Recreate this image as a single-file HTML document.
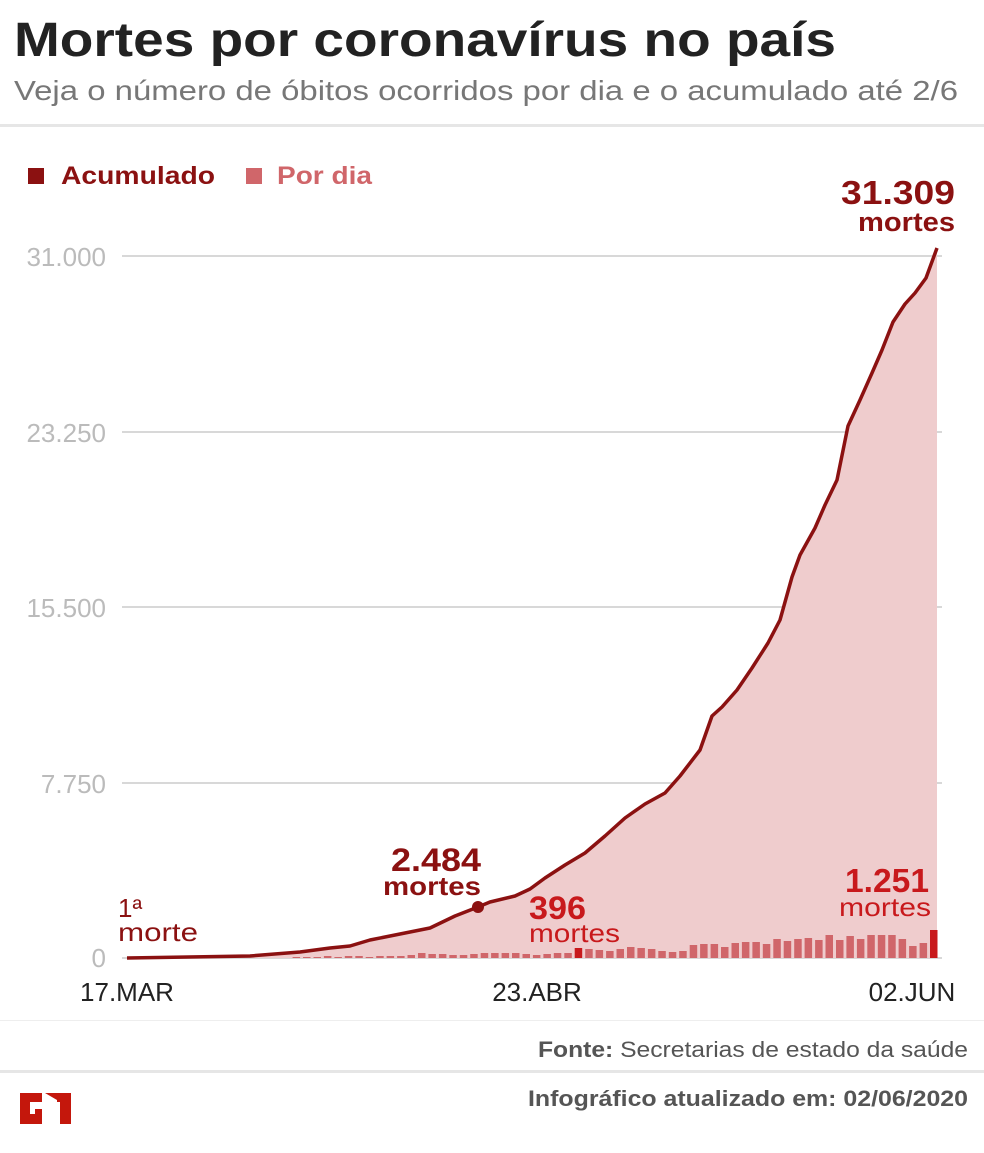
<!DOCTYPE html>
<html><head><meta charset="utf-8"><style>
body{margin:0;width:984px;height:1148px;background:#fff;font-family:"Liberation Sans",sans-serif;overflow:hidden}
</style></head><body>
<svg width="984" height="1148" xmlns="http://www.w3.org/2000/svg" font-family="Liberation Sans, sans-serif">
<text x="14" y="56" font-size="48" font-weight="bold" fill="#222" textLength="822" lengthAdjust="spacingAndGlyphs">Mortes por coronavírus no país</text>
<text x="14" y="100" font-size="28" fill="#777" textLength="944" lengthAdjust="spacingAndGlyphs">Veja o número de óbitos ocorridos por dia e o acumulado até 2/6</text>
<rect x="0" y="124" width="984" height="3" fill="#e6e6e6"/>
<rect x="28" y="168" width="16" height="16" fill="#8b1111"/>
<text x="61" y="184" font-size="25" font-weight="bold" fill="#8b1111" textLength="154" lengthAdjust="spacingAndGlyphs">Acumulado</text>
<rect x="246" y="168" width="16" height="16" fill="#d0666a"/>
<text x="277" y="184" font-size="25" font-weight="bold" fill="#d0666a" textLength="95" lengthAdjust="spacingAndGlyphs">Por dia</text>
<g stroke="#ccc" stroke-width="1.5">
<line x1="122" y1="256" x2="942" y2="256"/><line x1="122" y1="432" x2="942" y2="432"/>
<line x1="122" y1="607" x2="942" y2="607"/><line x1="122" y1="783" x2="942" y2="783"/>
<line x1="122" y1="958" x2="942" y2="958"/></g>
<g font-size="26" fill="#bbb" text-anchor="end">
<text x="106" y="266">31.000</text><text x="106" y="442">23.250</text><text x="106" y="617">15.500</text>
<text x="106" y="793">7.750</text><text x="106" y="967">0</text></g>
<polygon id="area" fill="#efcccd"/>
<g id="bars"></g>
<polyline id="line" fill="none" stroke="#8b1111" stroke-width="3.5" stroke-linejoin="round"/>
<circle cx="478" cy="907" r="6" fill="#8b1111"/>
<g font-size="26" fill="#222" text-anchor="middle"><text x="127" y="1001">17.MAR</text><text x="537" y="1001">23.ABR</text><text x="912" y="1001">02.JUN</text></g>
<text x="955" y="204" font-size="33" font-weight="bold" fill="#8b1111" text-anchor="end" textLength="114" lengthAdjust="spacingAndGlyphs">31.309</text>
<text x="955" y="231" font-size="27" font-weight="bold" fill="#8b1111" text-anchor="end" textLength="97" lengthAdjust="spacingAndGlyphs">mortes</text>
<text x="481" y="871" font-size="32" font-weight="bold" fill="#8b1111" text-anchor="end" textLength="90" lengthAdjust="spacingAndGlyphs">2.484</text>
<text x="481" y="895" font-size="26" font-weight="bold" fill="#8b1111" text-anchor="end" textLength="98" lengthAdjust="spacingAndGlyphs">mortes</text>
<text x="118" y="917" font-size="26" fill="#8b1111">1ª</text>
<text x="118" y="941" font-size="26" fill="#8b1111" textLength="80" lengthAdjust="spacingAndGlyphs">morte</text>
<text x="529" y="919" font-size="32" font-weight="bold" fill="#c8191c" textLength="57" lengthAdjust="spacingAndGlyphs">396</text>
<text x="529" y="942" font-size="26" fill="#c8191c" textLength="91" lengthAdjust="spacingAndGlyphs">mortes</text>
<text x="929" y="892" font-size="33" font-weight="bold" fill="#c8191c" text-anchor="end" textLength="84" lengthAdjust="spacingAndGlyphs">1.251</text>
<text x="931" y="916" font-size="26" fill="#c8191c" text-anchor="end" textLength="92" lengthAdjust="spacingAndGlyphs">mortes</text>
<rect x="0" y="1020" width="984" height="1" fill="#eee"/>
<text x="968" y="1057" font-size="22" fill="#555" text-anchor="end" textLength="430" lengthAdjust="spacingAndGlyphs"><tspan font-weight="bold">Fonte:</tspan> Secretarias de estado da saúde</text>
<rect x="0" y="1070" width="984" height="3" fill="#e6e6e6"/>
<text x="968" y="1106" font-size="22" font-weight="bold" fill="#555" text-anchor="end" textLength="440" lengthAdjust="spacingAndGlyphs">Infográfico atualizado em: 02/06/2020</text>
<path d="M20 1093 h22 v9 h-12 v12 h5 v-5 h7 v15 h-22z M45 1093 h26 v31 h-11 v-22 h-3 v-2 z" fill="#c4170c"/>
</svg>
<script>
var pts=[[127,958],[250,956],[300,952],[330,948],[350,946],[370,940],[400,934],[430,928],[455,916],[478,907],[490,902],[515,896],[530,889],[545,878],[565,865],[585,853],[605,836],[625,818],[645,804],[665,793],[680,776],[700,750],[712,716],[722,707],[737,690],[752,668],[768,643],[780,620],[792,577],[800,555],[815,528],[825,505],[837,480],[848,426],[860,400],[872,373],[882,350],[893,322],[905,304],[915,293],[926,278],[937,248]];
var s=pts.map(p=>p.join(',')).join(' ');
document.getElementById('line').setAttribute('points',s);
document.getElementById('area').setAttribute('points',s+' 937,958 127,958');
var h=[1,1,1,2,1,2,2,1,2,2,2,3,5,4,4,3,3,4,5,5,5,5,4,3,4,5,5,10,9,8,7,9,11,10,9,7,6,7,13,14,14,11,15,16,16,14,19,17,19,20,18,23,18,22,19,23,23,23,19,12,15,28];
var g='',x0=937-7-10.45*(h.length-1);
h.forEach((v,i)=>{var x=x0+i*10.45;var c=(i==27||i==h.length-1)?'#c8191c':'#d0666a';g+='<rect x="'+x.toFixed(1)+'" y="'+(958-v)+'" width="7.5" height="'+v+'" fill="'+c+'"/>';});
document.getElementById('bars').innerHTML=g;
</script>
</body></html>
